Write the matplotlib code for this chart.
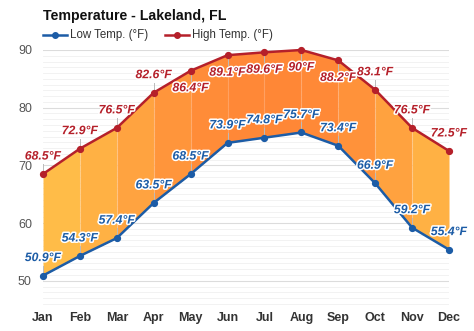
import matplotlib
matplotlib.use("Agg")
import matplotlib.pyplot as plt
import matplotlib.patheffects as pe
import numpy as np
from matplotlib.colors import to_rgb

months = ["Jan", "Feb", "Mar", "Apr", "May", "Jun", "Jul", "Aug", "Sep", "Oct", "Nov", "Dec"]
low_temps = [50.9, 54.3, 57.4, 63.5, 68.5, 73.9, 74.8, 75.7, 73.4, 66.9, 59.2, 55.4]
high_temps = [68.5, 72.9, 76.5, 82.6, 86.4, 89.1, 89.6, 90.0, 88.2, 83.1, 76.5, 72.5]
# where each high label sits relative to its point: +1 above, -1 below
high_label_side = [1, 1, 1, 1, -1, -1, -1, -1, -1, 1, 1, 1]
yticks = [50, 60, 70, 80, 90]

plt.rcParams["font.family"] = ["Liberation Sans", "DejaVu Sans"]

W, H = 474, 331
fig = plt.figure(figsize=(W / 100, H / 100), dpi=100)
left, right, top, bottom = 43, 449, 50, 305
ax = fig.add_axes([left / W, (H - bottom) / H, (right - left) / W, (bottom - top) / H])

x = np.arange(len(months))
ax.set_xlim(0, len(months) - 1)
ax.set_ylim(45.8, 90)

# light horizontal grid
for v in np.arange(46, 91, 1):
    ax.axhline(v, color="#f0f0f0", lw=0.6, zorder=0)
for v in yticks:
    ax.axhline(v, color="#dcdcdc", lw=0.8, zorder=0)

# band between low and high, coloured per month interval
c_warm = np.array(to_rgb("#ff8636"))
c_cool = np.array(to_rgb("#ffc24a"))
hmin, hmax = min(high_temps), max(high_temps)
for i in range(len(months) - 1):
    m = (high_temps[i] + high_temps[i + 1]) / 2
    t = (m - hmin) / (hmax - hmin)
    col = c_cool + (c_warm - c_cool) * t
    ax.fill_between(x[i:i + 2], low_temps[i:i + 2], high_temps[i:i + 2],
                    color=col, lw=0, zorder=1)
# faint column separators inside the band
for i in range(1, len(months) - 1):
    ax.plot([x[i], x[i]], [low_temps[i], high_temps[i]], color="white",
            alpha=0.18, lw=0.8, zorder=1.5)

low_col = "#1c5ca6"
high_col = "#b5202a"
ax.plot(x, low_temps, color=low_col, lw=1.8, marker="o", ms=4.2, zorder=4, clip_on=False)
ax.plot(x, high_temps, color=high_col, lw=1.8, marker="o", ms=4.2, zorder=4, clip_on=False)

halo = [pe.withStroke(linewidth=2.2, foreground="white")]
px = (bottom - top) / (90 - 45.8)  # pixels per degree
off = 17.5 / px
lead = 10 / px

for xi, v, s in zip(x, high_temps, high_label_side):
    ax.plot([xi, xi], [v + s * 3 / px, v + s * lead], color="#bbbbbb", lw=0.7, zorder=3)
    ax.text(xi, v + s * off, f"{v:g}°F", ha="center", va="center", fontsize=8.8,
            fontweight="bold", fontstyle="italic", color=high_col,
            path_effects=halo, zorder=6, clip_on=False)
for xi, v in zip(x, low_temps):
    ax.plot([xi, xi], [v + 3 / px, v + lead], color="#bbbbbb", lw=0.7, zorder=3)
    ax.text(xi, v + off, f"{v:g}°F", ha="center", va="center", fontsize=8.8,
            fontweight="bold", fontstyle="italic", color=low_col,
            path_effects=halo, zorder=6, clip_on=False)

for sp in ax.spines.values():
    sp.set_visible(False)
ax.set_xticks(x)
ax.set_xticklabels(months, fontsize=9, fontweight="bold", color="#333333")
ax.set_yticks(yticks)
ax.set_yticklabels([str(v) for v in yticks], fontsize=9, color="#555555")
ax.tick_params(axis="x", length=0, pad=5)
ax.tick_params(axis="y", length=0, pad=8)

fig.text(43 / W, 1 - 16 / H, "Temperature - Lakeland, FL", fontsize=10.2,
         fontweight="bold", color="#111111", ha="left", va="center")

# legend row
def legend_item(x0, color, text):
    ly = 1 - 35 / H
    fig.add_artist(plt.Line2D([x0 / W, (x0 + 24) / W], [ly, ly], color=color, lw=1.8,
                              transform=fig.transFigure))
    fig.add_artist(plt.Line2D([(x0 + 12) / W], [ly], color=color, marker="o", ms=4,
                              transform=fig.transFigure))
    fig.text((x0 + 27) / W, ly, text, fontsize=8.3, color="#333333", ha="left", va="center")

legend_item(43, low_col, "Low Temp. (°F)")
legend_item(165, high_col, "High Temp. (°F)")

fig.savefig("out.png", dpi=100)
